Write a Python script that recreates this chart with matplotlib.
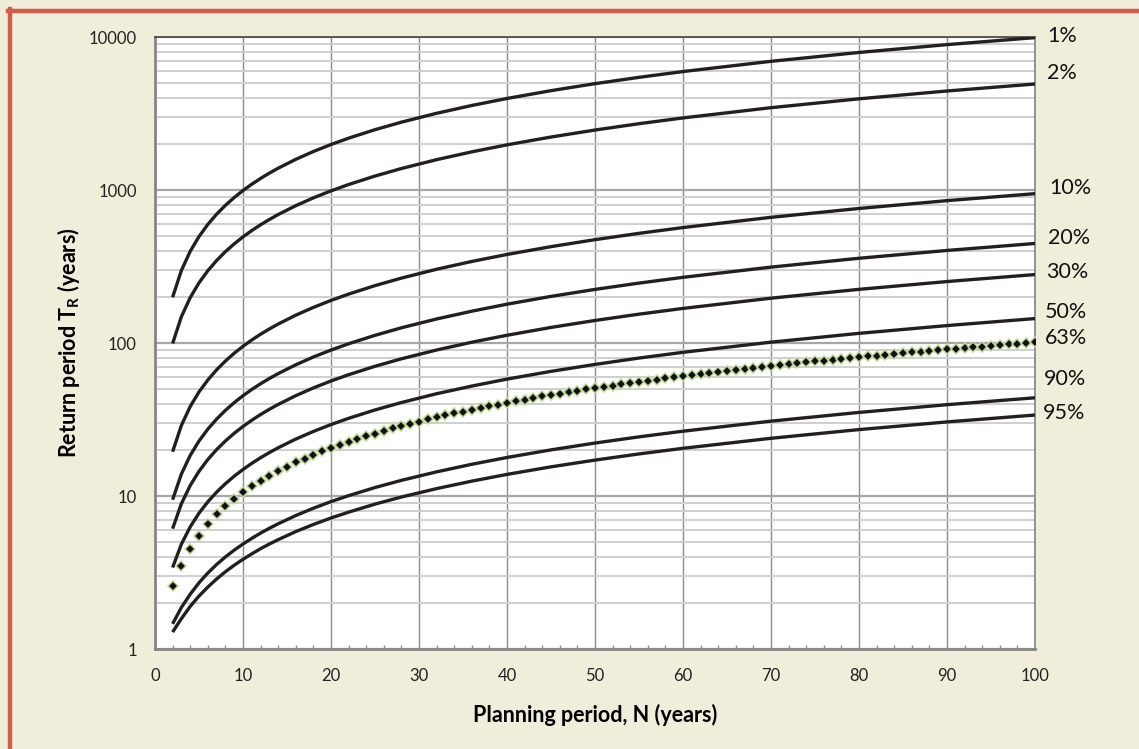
import matplotlib
matplotlib.use('Agg')
import matplotlib.pyplot as plt
from matplotlib.lines import Line2D
from matplotlib.ticker import FixedLocator, MultipleLocator, LogLocator, NullFormatter

plt.rcParams['font.family'] = ['Lato', 'DejaVu Sans']

# planning period N (years) for the solid curves
n_years = [2, 3, 4, 5, 6, 7, 8, 9, 10, 11, 12, 13, 14, 16, 18, 20, 22, 25, 28, 32,
           36, 40, 45, 50, 55, 60, 70, 80, 90, 100]

# return period T_R (years) for each risk level
tr_1 = [199.5, 299.0, 398.5, 498.0, 597.5, 697.0, 796.5, 896.0, 995.5, 1095, 1194.5,
        1294, 1393.5, 1592.5, 1791.5, 1990.5, 2189.5, 2488, 2786.5, 3184.5, 3582.5,
        3980.5, 4478, 4975.5, 5473, 5970.5, 6965.5, 7960.5, 8955.5, 9950.4]
tr_2 = [99.5, 149.0, 198.5, 248.0, 297.5, 347.0, 396.5, 446.0, 495.5, 545.0, 594.5,
        644.0, 693.5, 792.5, 891.5, 990.5, 1089.5, 1238, 1386.4, 1584.4, 1782.4,
        1980.4, 2227.9, 2475.4, 2722.9, 2970.4, 3465.4, 3960.3, 4455.3, 4950.3]
tr_10 = [19.5, 29.0, 38.5, 48.0, 57.4, 66.9, 76.4, 85.9, 95.4, 104.9, 114.4, 123.9,
         133.4, 152.4, 171.3, 190.3, 209.3, 237.8, 266.3, 304.2, 342.2, 380.1, 427.6,
         475.1, 522.5, 570.0, 664.9, 759.8, 854.7, 949.6]
tr_20 = [9.47, 13.95, 18.43, 22.91, 27.39, 31.87, 36.35, 40.84, 45.31, 49.80, 54.28,
         58.76, 63.24, 72.2, 81.2, 90.1, 99.1, 112.5, 126.0, 143.9, 161.8, 179.8,
         202.2, 224.6, 247.0, 269.4, 314.2, 359.0, 403.8, 448.6]
tr_30 = [6.12, 8.92, 11.72, 14.52, 17.33, 20.13, 22.93, 25.74, 28.54, 31.34, 34.15,
         36.95, 39.75, 45.36, 50.97, 56.58, 62.18, 70.6, 79.0, 90.2, 101.4, 112.6,
         126.7, 140.7, 154.7, 168.7, 196.8, 224.8, 252.8, 280.9]
tr_50 = [3.41, 4.85, 6.29, 7.73, 9.17, 10.61, 12.05, 13.49, 14.93, 16.37, 17.82,
         19.26, 20.70, 23.59, 26.47, 29.36, 32.24, 36.57, 40.9, 46.7, 52.4, 58.2,
         65.4, 72.6, 79.9, 87.1, 101.5, 115.9, 130.3, 144.8]
tr_90 = [1.46, 1.87, 2.28, 2.71, 3.14, 3.57, 4.00, 4.43, 4.86, 5.29, 5.73, 6.16,
         6.59, 7.46, 8.33, 9.20, 10.06, 11.37, 12.67, 14.40, 16.14, 17.88, 20.05,
         22.22, 24.39, 26.56, 30.90, 35.24, 39.59, 43.93]
tr_95 = [1.29, 1.58, 1.90, 2.22, 2.54, 2.87, 3.20, 3.53, 3.86, 4.19, 4.53, 4.86,
         5.19, 5.86, 6.52, 7.19, 7.85, 8.86, 9.86, 11.19, 12.52, 13.86, 15.53,
         17.19, 18.86, 20.53, 23.87, 27.21, 30.54, 33.88]

# 63% curve drawn as markers at every year
n_63 = list(range(2, 101))
tr_63 = [2.6, 3.5, 4.5, 5.5, 6.6, 7.6, 8.6, 9.6, 10.6, 11.6, 12.6, 13.6, 14.6, 15.6,
         16.6, 17.6, 18.6, 19.6, 20.6, 21.6, 22.6, 23.6, 24.6, 25.6, 26.7, 27.7, 28.7,
         29.7, 30.7, 31.7, 32.7, 33.7, 34.7, 35.7, 36.7, 37.7, 38.7, 39.7, 40.7, 41.7,
         42.7, 43.7, 44.8, 45.8, 46.8, 47.8, 48.8, 49.8, 50.8, 51.8, 52.8, 53.8, 54.8,
         55.8, 56.8, 57.8, 58.8, 59.8, 60.8, 61.8, 62.8, 63.9, 64.9, 65.9, 66.9, 67.9,
         68.9, 69.9, 70.9, 71.9, 72.9, 73.9, 74.9, 75.9, 76.9, 77.9, 78.9, 79.9, 81.0,
         82.0, 83.0, 84.0, 85.0, 86.0, 87.0, 88.0, 89.0, 90.0, 91.0, 92.0, 93.0, 94.0,
         95.0, 96.1, 97.1, 98.1, 99.1, 100.1, 101.1]

curves = [tr_1, tr_2, tr_10, tr_20, tr_30, tr_50, tr_90, tr_95]
risk_labels = ['1%', '2%', '10%', '20%', '30%', '50%', '63%', '90%', '95%']
label_y = [10200, 5850, 1035, 488, 292, 160, 108, 58, 35]  # where the labels sit
label_x = [1047, 1047, 1049, 1048, 1046, 1045, 1045, 1044, 1043]  # pixel x

bg = '#F0EEDB'
fig = plt.figure(figsize=(11.39, 7.49), dpi=100, facecolor=bg)
ax = fig.add_axes([155/1139, 100/749, 880/1139, 611.7/749])
ax.set_facecolor('white')

for tr in curves:
    ax.plot(n_years, tr, color='#231F20', lw=2.4, solid_capstyle='butt', zorder=3)
ax.plot(n_63, tr_63, ls='none', marker='D', ms=4.8, mfc='#111111',
        mec='#C3D69B', mew=1.1, zorder=4)

ax.set_yscale('log')
ax.set_xlim(0, 100)
ax.set_ylim(1, 10000)
ax.xaxis.set_major_locator(MultipleLocator(10))
ax.xaxis.set_minor_locator(MultipleLocator(2))
ax.yaxis.set_major_locator(FixedLocator([1, 10, 100, 1000, 10000]))
ax.set_yticklabels(['1', '10', '100', '1000', '10000'])
ax.yaxis.set_minor_locator(LogLocator(base=10, subs=range(2, 10)))
ax.yaxis.set_minor_formatter(NullFormatter())

ax.grid(axis='x', which='major', color='#8C8C8C', lw=1.0)
ax.grid(axis='y', which='major', color='#A6A6A6', lw=1.6)
ax.grid(axis='y', which='minor', color='#CFCFCF', lw=1.4)
ax.set_axisbelow(True)

ax.tick_params(axis='x', which='major', direction='in', length=0, pad=14,
               labelsize=12, colors='#222222')
ax.tick_params(axis='x', which='minor', direction='in', length=3, width=1,
               color='#8C8C8C')
ax.tick_params(axis='y', which='both', length=0, pad=13, labelsize=12,
               colors='#222222')
for side in ['left', 'bottom']:
    ax.spines[side].set_color('#858585')
    ax.spines[side].set_linewidth(2)
ax.spines['top'].set_color('#444444')
ax.spines['top'].set_linewidth(1.2)
ax.spines['right'].set_color('#858585')
ax.spines['right'].set_linewidth(1.2)

ax.set_xlabel('Planning period, N (years)', fontsize=15.5, fontweight='bold',
              labelpad=14)
ax.set_ylabel(r'Return period T$_\mathregular{R}$ (years)', fontsize=15.5,
              fontweight='bold', labelpad=5)

for txt, yv, xp in zip(risk_labels, label_y, label_x):
    ax.annotate(txt, xy=(xp / 1139, yv), xycoords=('figure fraction', 'data'),
                fontsize=15.5, va='center', ha='left', color='#111111',
                annotation_clip=False)

# red frame on the top and left edge
fig.add_artist(Line2D([8/1139, 1], [1 - 11/749, 1 - 11/749], color='#D05E4A',
                      lw=3.2, transform=fig.transFigure))
fig.add_artist(Line2D([10/1139, 10/1139], [0, 1 - 9/749], color='#D05E4A',
                      lw=3.2, transform=fig.transFigure))

fig.savefig('out.png', dpi=100, facecolor=bg)
